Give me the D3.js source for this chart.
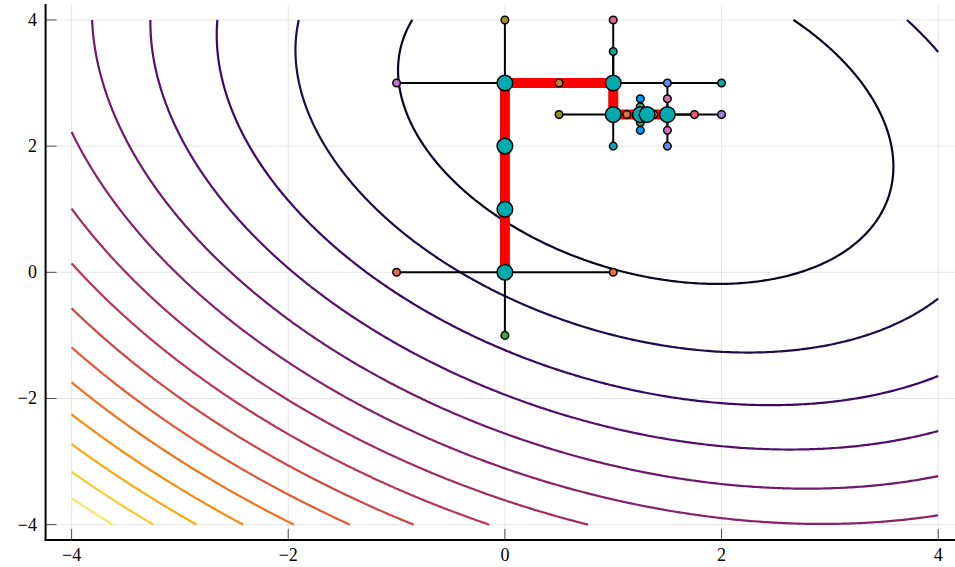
<!DOCTYPE html>
<html>
<head>
<meta charset="utf-8"/>
<title>Pattern search on contours</title>
<script src="https://cdn.jsdelivr.net/npm/d3@7"></script>
<style>
  body { margin: 0; background: #fff; }
  svg { display: block; }
  text { font-family: "Liberation Serif", "DejaVu Serif", serif; font-size: 18px; fill: #000; }
</style>
</head>
<body>
<svg id="chart" width="955" height="567"></svg>
<script>
// contour levels
var levels = [5, 10, 15, 20, 25, 30, 35, 40, 45, 50, 55, 60, 65, 70, 75];
// objective: qa*(x-cx)^2 + qb*(x-cx)*(y-cy) + qc*(y-cy)^2
var cx = 1.3, cy = 2.44, qa = 1.045, qb = 0.53, qc = 0.793;
var tickVals = [-4, -2, 0, 2, 4];

// accepted iterates
var pathX = [0, 0, 0, 0, 1, 1, 1.5, 1.25, 1.3125];
var pathY = [0, 1, 2, 3, 3, 2.5, 2.5, 2.5, 2.5];

// trial points, the point they were taken from, and their series colour
var trialX =     [1, -1, 0,   -1, 0,   2, 1, 0.5, 1,   0.5, 1,   2,   1.5, 1.5, 1.5,  1.5,  1.75,  1.25, 1.25, 1.125, 1.375, 1.25,  1.25];
var trialY =     [0, 0, -1,   3, 4,    3, 4, 3,   3.5, 2.5, 2,   2.5, 3,   2,   2.75, 2.25, 2.5,   2.75, 2.25, 2.5,   2.5,   2.625, 2.375];
var trialBaseX = [0, 0, 0,    0, 0,    1, 1, 1,   1,   1,   1,   1.5, 1.5, 1.5, 1.5,  1.5,  1.5,   1.25, 1.25, 1.25,  1.25,  1.25,  1.25];
var trialBaseY = [0, 0, 0,    3, 3,    3, 3, 3,   3,   2.5, 2.5, 2.5, 2.5, 2.5, 2.5,  2.5,  2.5,   2.5,  2.5,  2.5,   2.5,   2.5,   2.5];
var trialColor = [2, 2, 3,    4, 5,    6, 7, 8,   9,   10,  11,  12,  13,  13,  14,   14,   15,    1,    1,    2,     2,     3,     3];

var palette = ["#009AFA", "#E36F47", "#3EA44E", "#C371D2", "#AC8E18", "#00AAAE", "#ED5E93",
               "#C68225", "#00A98D", "#8E971E", "#00A8C6", "#9B7FE9", "#618DF6", "#D56FC0", "#E45E70"];

var svg = d3.select("#chart");
var x = d3.scaleLinear().domain([-4.24, 4.24]).range([45.6, 964.2]);
var y = d3.scaleLinear().domain([-4.24, 4.24]).range([539.8, 4.8]);

// grid
var grid = svg.append("g").attr("stroke", "#e6e6e6").attr("stroke-width", 1);
grid.selectAll(".gx").data(tickVals).enter().append("line")
  .attr("x1", d => x(d)).attr("x2", d => x(d)).attr("y1", y.range()[1]).attr("y2", y.range()[0]);
grid.selectAll(".gy").data(tickVals).enter().append("line")
  .attr("x1", x.range()[0]).attr("x2", 955).attr("y1", d => y(d)).attr("y2", d => y(d));

// sample the objective on [-4,4]^2
var n = 321, step = 8 / (n - 1);
var values = new Array(n * n);
for (var j = 0; j < n; j++) {
  for (var i = 0; i < n; i++) {
    var u = -4 + i * step - cx, v = -4 + j * step - cy;
    values[j * n + i] = qa * u * u + qb * u * v + qc * v * v;
  }
}
var zmin = d3.min(values), zmax = d3.max(values);
var contours = d3.contours().size([n, n]).thresholds(levels)(values);

function onEdge(p) { return p[0] <= 0 || p[0] >= n || p[1] <= 0 || p[1] >= n; }
function ringLines(ring) {
  var pts = ring.slice(0, -1);
  var k = pts.findIndex(onEdge);
  if (k < 0) return [ring];
  pts = pts.slice(k).concat(pts.slice(0, k));
  var out = [], cur = [];
  pts.forEach(function(p) {
    if (onEdge(p)) { if (cur.length > 1) out.push(cur); cur = []; }
    else cur.push(p);
  });
  if (cur.length > 1) out.push(cur);
  return out;
}
var line = d3.line()
  .x(p => x(-4 + (p[0] - 0.5) * step))
  .y(p => y(-4 + (p[1] - 0.5) * step));

var cg = svg.append("g").attr("fill", "none").attr("stroke-width", 2.2);
contours.forEach(function(c) {
  var col = d3.interpolateInferno((c.value - zmin) / (zmax - zmin));
  c.coordinates.forEach(function(poly) {
    poly.forEach(function(ring) {
      ringLines(ring).forEach(function(pl) {
        cg.append("path").attr("d", line(pl)).attr("stroke", col);
      });
    });
  });
});

// trial segments
svg.append("g").selectAll("line").data(trialX).enter().append("line")
  .attr("x1", (d, i) => x(trialBaseX[i])).attr("y1", (d, i) => y(trialBaseY[i]))
  .attr("x2", (d, i) => x(trialX[i])).attr("y2", (d, i) => y(trialY[i]))
  .attr("stroke", "#000").attr("stroke-width", 2);

// accepted path
var pathPts = pathX.map((d, i) => [d, pathY[i]]);
svg.append("path")
  .attr("d", d3.line().x(p => x(p[0])).y(p => y(p[1]))(pathPts))
  .attr("fill", "none").attr("stroke", "#ff0000").attr("stroke-width", 10)
  .attr("stroke-linejoin", "round");

// trial markers
svg.append("g").selectAll("circle").data(trialX).enter().append("circle")
  .attr("cx", (d, i) => x(trialX[i])).attr("cy", (d, i) => y(trialY[i]))
  .attr("r", 3.8)
  .attr("fill", (d, i) => palette[trialColor[i] - 1])
  .attr("stroke", "#000").attr("stroke-width", 1.5);

// iterate markers
svg.append("g").selectAll("circle").data(pathPts).enter().append("circle")
  .attr("cx", p => x(p[0])).attr("cy", p => y(p[1]))
  .attr("r", 7.8)
  .attr("fill", "#00AAAE")
  .attr("stroke", "#000").attr("stroke-width", 1.5);

// axes
var ax = svg.append("g");
ax.selectAll(".tx").data(tickVals).enter().append("line")
  .attr("x1", d => x(d)).attr("x2", d => x(d)).attr("y1", 539.8).attr("y2", 529)
  .attr("stroke", "#4d4d4d").attr("stroke-width", 1);
ax.selectAll(".ty").data(tickVals).enter().append("line")
  .attr("x1", 45.6).attr("x2", 56.5).attr("y1", d => y(d)).attr("y2", d => y(d))
  .attr("stroke", "#4d4d4d").attr("stroke-width", 1);
ax.append("line").attr("x1", 45.6).attr("x2", 45.6).attr("y1", 4).attr("y2", 541)
  .attr("stroke", "#000").attr("stroke-width", 2);
ax.append("line").attr("x1", 44.6).attr("x2", 955).attr("y1", 540).attr("y2", 540)
  .attr("stroke", "#000").attr("stroke-width", 2);

function fmt(d) { return d < 0 ? "\u2212" + Math.abs(d) : String(d); }
ax.selectAll(".lx").data(tickVals).enter().append("text")
  .attr("x", d => x(d)).attr("y", 561).attr("text-anchor", "middle").text(fmt);
ax.selectAll(".ly").data(tickVals).enter().append("text")
  .attr("x", 37).attr("y", d => y(d) + 6).attr("text-anchor", "end").text(fmt);
</script>
</body>
</html>
